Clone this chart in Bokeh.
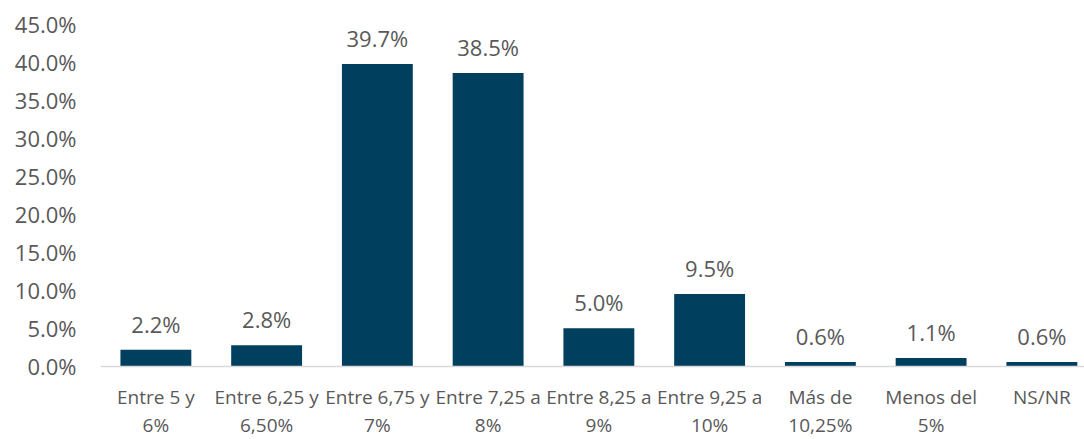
from bokeh.plotting import figure
from bokeh.models import ColumnDataSource, Range1d, FixedTicker, NumeralTickFormatter
from bokeh.core.properties import value
from bokeh.embed import file_html
from bokeh.resources import INLINE

categories = ["Entre 5 y\n6%", "Entre 6,25 y\n6,50%", "Entre 6,75 y\n7%", "Entre 7,25 a\n8%",
              "Entre 8,25 a\n9%", "Entre 9,25 a\n10%", "Más de\n10,25%", "Menos del\n5%", "NS/NR"]
shares = [2.2, 2.8, 39.7, 38.5, 5.0, 9.5, 0.6, 1.1, 0.6]
y_ticks = [0, 5, 10, 15, 20, 25, 30, 35, 40, 45]

xs = list(range(len(categories)))
fr = [v / 100 for v in shares]
labels = [f"{v:.1f}%" for v in shares]
src = ColumnDataSource(dict(x=xs, top=fr, label=labels))

FONT = "Open Sans"
TXT = "#595959"

p = figure(width=1084, height=437, output_backend="svg", toolbar_location=None,
           x_range=Range1d(-0.5, 8.385), y_range=Range1d(-0.0932, 0.45),
           min_border_left=100, min_border_right=0, min_border_top=23, min_border_bottom=0)
p.outline_line_color = None
p.background_fill_color = "white"
p.border_fill_color = "white"

p.vbar(x="x", top="top", width=0.64, source=src, fill_color="#003F5E", line_color=None)
p.text(x="x", y="top", text="label", source=src, text_align="center", text_baseline="bottom",
       y_offset=-11, text_font=value(FONT), text_font_size="22px", text_color=TXT)

p.xgrid.visible = False
p.ygrid.visible = False

p.yaxis.ticker = FixedTicker(ticks=[t / 100 for t in y_ticks])
p.yaxis.formatter = NumeralTickFormatter(format="0.0%")
p.yaxis.axis_line_color = None
p.yaxis.major_tick_line_color = None
p.yaxis.minor_tick_line_color = None
p.yaxis.major_label_text_font = FONT
p.yaxis.major_label_text_font_size = "22px"
p.yaxis.major_label_text_color = TXT
p.yaxis.major_label_standoff = 18

p.xaxis.fixed_location = 0
p.xaxis.ticker = FixedTicker(ticks=xs)
p.xaxis.major_label_overrides = {i: c for i, c in enumerate(categories)}
p.xaxis.axis_line_color = "#D9D9D9"
p.xaxis.axis_line_width = 1.5
p.xaxis.major_tick_line_color = None
p.xaxis.minor_tick_line_color = None
p.xaxis.major_label_text_font = FONT
p.xaxis.major_label_text_font_size = "19px"
p.xaxis.major_label_text_line_height = 1.05
p.xaxis.major_label_text_color = TXT
p.xaxis.major_label_standoff = 12

open("out.html", "w").write(file_html(p, INLINE))
